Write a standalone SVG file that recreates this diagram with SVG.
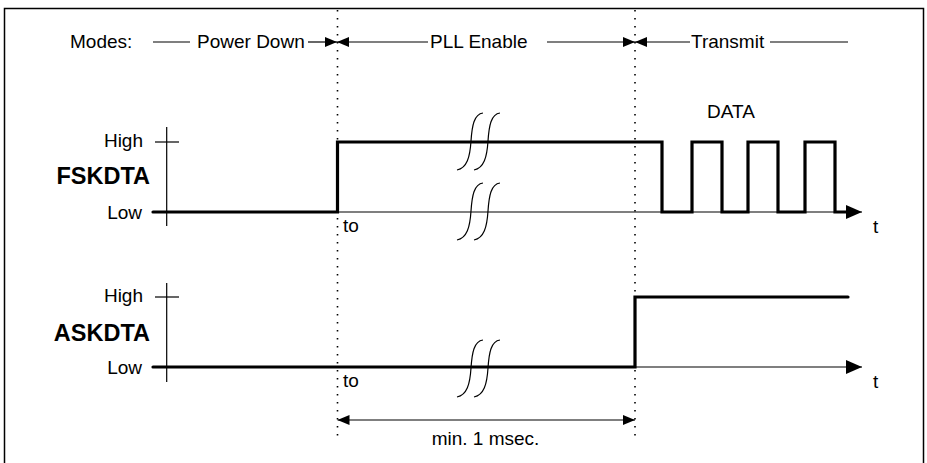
<svg xmlns="http://www.w3.org/2000/svg" width="927" height="463" viewBox="0 0 927 463">
<defs>
<style>
text{font-family:"Liberation Sans",Arial,sans-serif;font-size:19px;fill:#000}
.b{font-weight:bold;font-size:23.5px}
.e{text-anchor:end}
.thin{stroke:#000;stroke-width:1.2;fill:none}
.thick{stroke:#000;stroke-width:3.2;fill:none;stroke-linejoin:miter;stroke-linecap:round}
.dot{stroke:#000;stroke-width:1.6;stroke-dasharray:1.6 6.4;fill:none}
.brk{stroke:#000;stroke-width:1.2;fill:none}
</style>
<marker id="ma" markerWidth="12" markerHeight="10" refX="12" refY="5" orient="auto" markerUnits="userSpaceOnUse"><path d="M0,0 L12,5 L0,10 Z" fill="#000"/></marker>
<marker id="ms" markerWidth="12" markerHeight="10" refX="0" refY="5" orient="auto" markerUnits="userSpaceOnUse"><path d="M12,0 L0,5 L12,10 Z" fill="#000"/></marker>
<marker id="mt" markerWidth="16" markerHeight="14" refX="16" refY="7" orient="auto" markerUnits="userSpaceOnUse"><path d="M0,0 L16,7 L0,14 Z" fill="#000"/></marker>
</defs>
<rect x="4.5" y="8.5" width="919" height="460" fill="#fff" stroke="#000" stroke-width="1.5"/>

<g id="modes">
<text x="70" y="48">Modes:</text>
<line class="thin" x1="153" y1="42" x2="190" y2="42"/>
<text x="197" y="48">Power Down</text>
<line class="thin" x1="308" y1="42" x2="337" y2="42" marker-end="url(#ma)"/>
<line class="thin" x1="337" y1="42" x2="428" y2="42" marker-start="url(#ms)"/>
<text x="430" y="48">PLL Enable</text>
<line class="thin" x1="547" y1="42" x2="635" y2="42" marker-end="url(#ma)"/>
<line class="thin" x1="635" y1="42" x2="690" y2="42" marker-start="url(#ms)"/>
<text x="691" y="48">Transmit</text>
<line class="thin" x1="770" y1="42" x2="848" y2="42"/>
</g>

<g id="guides">
<line class="dot" x1="337.5" y1="10" x2="337.5" y2="436"/>
<line class="dot" x1="635" y1="10" x2="635" y2="436"/>
</g>

<g id="fskdta">
<text class="b e" x="150" y="183.5">FSKDTA</text>
<text class="e" x="143" y="146.5">High</text>
<text class="e" x="142" y="219">Low</text>
<line class="thin" x1="166.7" y1="127" x2="166.7" y2="226"/>
<line class="thin" x1="155" y1="142" x2="179" y2="142"/>
<line class="thin" x1="166.7" y1="212" x2="862" y2="212" marker-end="url(#mt)"/>
<path class="thick" d="M153,212 H337.5 V142 H662 V212 H692 V142 H722 V212 H748 V142 H778 V212 H805 V142 H835 V212 H846"/>
<text x="707" y="118">DATA</text>
<text x="343" y="232">to</text>
<text x="873" y="233">t</text>
<path class="brk" d="M483,113 C474,114 472,126 471,141 C470,157 467,168 457,170"/>
<path class="brk" d="M500,113 C491,114 489,126 488,141 C487,157 484,168 474,170"/>
<path class="brk" d="M483,183 C474,184 472,196 471,211 C470,227 467,238 457,240"/>
<path class="brk" d="M500,183 C491,184 489,196 488,211 C487,227 484,238 474,240"/>
</g>

<g id="askdta">
<text class="b e" x="150" y="340.5">ASKDTA</text>
<text class="e" x="143" y="302">High</text>
<text class="e" x="142" y="373.5">Low</text>
<line class="thin" x1="166.7" y1="283" x2="166.7" y2="382"/>
<line class="thin" x1="155" y1="297" x2="179" y2="297"/>
<line class="thin" x1="635" y1="367" x2="862" y2="367" marker-end="url(#mt)"/>
<path class="thick" d="M153,367 H635 V297 H848"/>
<text x="343" y="387">to</text>
<text x="873" y="388">t</text>
<path class="brk" d="M483,340 C474,341 472,353 471,368 C470,384 467,395 457,397"/>
<path class="brk" d="M500,340 C491,341 489,353 488,368 C487,384 484,395 474,397"/>
</g>

<g id="connectors">
<line class="thin" x1="337.5" y1="420" x2="635" y2="420" marker-start="url(#ms)" marker-end="url(#ma)"/>
<text x="485.5" y="445" text-anchor="middle">min. 1 msec.</text>
</g>
</svg>
